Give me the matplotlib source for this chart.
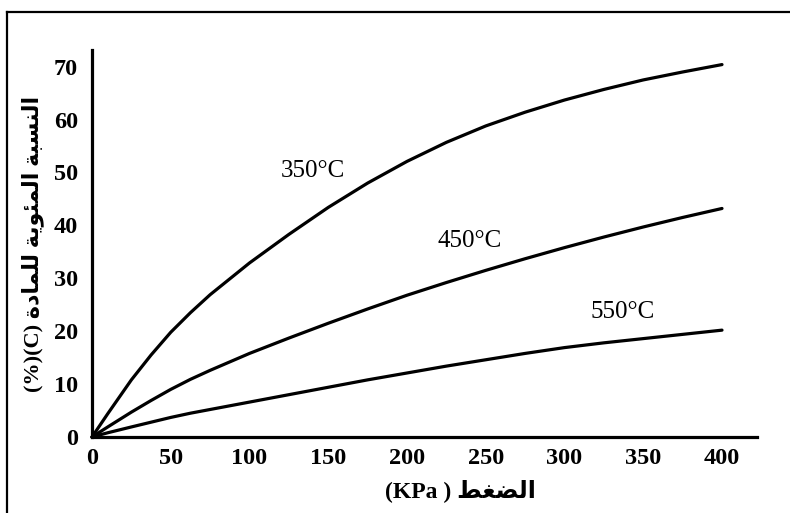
import matplotlib
matplotlib.use('Agg')
import matplotlib.pyplot as plt
from matplotlib.lines import Line2D

# ---- data ----
pressure = [0, 10, 25, 37.5, 50, 62.5, 75, 100, 125, 150, 175, 200, 225, 250,
            275, 300, 325, 350, 375, 400]                                  # KPa
pct_350 = [0, 4.4, 10.8, 15.5, 19.8, 23.5, 26.9, 32.9, 38.3, 43.4, 48.0,
           52.1, 55.7, 58.8, 61.4, 63.7, 65.7, 67.5, 69.0, 70.4]
pct_450 = [0, 1.9, 4.7, 6.9, 9.0, 10.9, 12.6, 15.8, 18.7, 21.5, 24.2,
           26.8, 29.2, 31.5, 33.7, 35.8, 37.8, 39.7, 41.5, 43.2]
pct_550 = [0, 0.8, 1.9, 2.8, 3.7, 4.5, 5.2, 6.6, 8.0, 9.4, 10.8,
           12.1, 13.4, 14.6, 15.8, 16.9, 17.8, 18.6, 19.4, 20.2]
series_names = ['350°C', '450°C', '550°C']
x_ticks = [0, 50, 100, 150, 200, 250, 300, 350, 400]
y_ticks = [0, 10, 20, 30, 40, 50, 60, 70]

# Arabic words in presentation forms, visual (left-to-right) order
w_nisba = '\uFE94\uFE92\uFEB4\uFEE8\uFEDF\uFE8D'          # النسبة
w_mieawiya = '\uFE94\uFEF3\uFEEE\uFE8C\uFEE4\uFEDF\uFE8D'   # المئوية
w_lilmadda = '\uFE93\uFEA9\uFE8E\uFEE4\uFEE0\uFEDF'         # للمادة
w_daght = '\uFEC2\uFED0\uFEC0\uFEDF\uFE8D'                  # الضغط
y_label = '(%)(C) ' + w_lilmadda + ' ' + w_mieawiya + ' ' + w_nisba
x_label = '(KPa ) ' + w_daght

fams = ['Liberation Serif', 'DejaVu Sans']

fig = plt.figure(figsize=(7.9, 5.13), dpi=100)
ax = fig.add_axes([92 / 790, 1 - 437 / 513, (757 - 92) / 790, (437 - 50) / 513])

for vals in (pct_350, pct_450, pct_550):
    ax.plot(pressure, vals, color='black', lw=2.3, clip_on=False,
            solid_capstyle='round', solid_joinstyle='round')

label_xy = [(140, 50.2), (240, 37.0), (337, 23.6)]
for name, (lx, ly) in zip(series_names, label_xy):
    ax.text(lx, ly, name, ha='center', va='center', fontsize=18,
            family='Liberation Serif', color='black')

ax.set_xlim(0, (757 - 92) / 1.575)
ax.set_ylim(0, 387 / 5.29)
ax.set_xticks(x_ticks)
ax.set_yticks(y_ticks)
ax.set_xticklabels([str(v) for v in x_ticks])
ax.set_yticklabels([str(v) for v in y_ticks])
for lab in ax.get_xticklabels() + ax.get_yticklabels():
    lab.set_family('Liberation Serif')
    lab.set_fontweight('bold')
    lab.set_fontsize(17.5)
ax.tick_params(axis='both', length=0)
ax.tick_params(axis='x', pad=8)
ax.tick_params(axis='y', pad=10)

for s in ('top', 'right'):
    ax.spines[s].set_visible(False)
for s in ('left', 'bottom'):
    ax.spines[s].set_linewidth(2.3)
    ax.spines[s].set_color('black')

fig.text(460 / 790, 1 - 491 / 513, x_label, ha='center', va='center',
         fontsize=17, fontweight='bold', family=fams)
fig.text(33 / 790, 1 - 244 / 513, y_label, ha='center', va='center',
         rotation=90, fontsize=16, fontweight='bold', family=fams)

# scanned-page frame
fig.add_artist(Line2D([7 / 790, 7 / 790], [0, 1 - 12 / 513],
                      transform=fig.transFigure, color='black', lw=1.6))
fig.add_artist(Line2D([7 / 790, 1], [1 - 12 / 513, 1 - 12 / 513],
                      transform=fig.transFigure, color='black', lw=1.6))

fig.savefig('out.png', dpi=100, facecolor='white')
